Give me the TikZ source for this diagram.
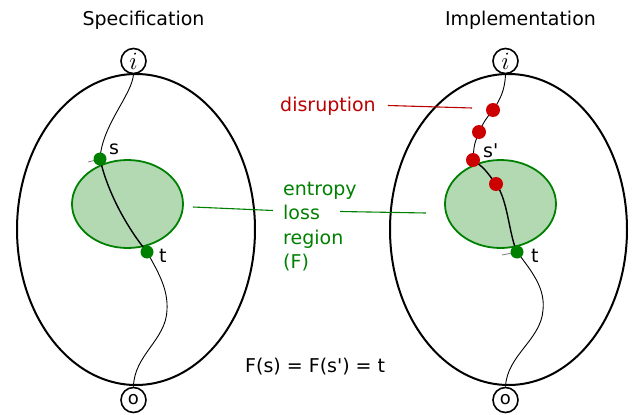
\documentclass[tikz,border=0pt]{standalone}
\usepackage{fontspec}
\setmainfont{DejaVu Sans}
\usetikzlibrary{calc}
\pgfdeclarelayer{bg}
\pgfdeclarelayer{mid}
\pgfsetlayers{bg,mid,main}
\definecolor{dgreen}{HTML}{008000}
\definecolor{lgreen}{HTML}{B3D9B3}
\definecolor{dred}{HTML}{CC0000}
\definecolor{tred}{HTML}{BB0000}
\begin{document}
\begin{tikzpicture}[x=1pt,y=-1pt,
  txt/.style={font=\fontsize{19}{23}\selectfont, inner sep=0pt},
  term/.style={draw, circle, line width=1.6pt, minimum size=25pt, inner sep=0pt, font=\fontsize{18}{18}\selectfont},
  iterm/.style={term, font=\fontsize{27}{27}\selectfont},
  gdot/.style={circle, fill=dgreen, minimum size=13pt, inner sep=0pt},
  rdot/.style={circle, fill=dred, minimum size=14pt, inner sep=0pt},
  outer/.style={draw, line width=2pt},
  region/.style={draw=dgreen, fill=lgreen, line width=1.8pt},
  wire/.style={line width=0.9pt},
  wirein/.style={line width=1.4pt},
  gline/.style={draw=dgreen, line width=1.1pt},
  rline/.style={draw=tred, line width=1.1pt}
]
\useasboundingbox (0,0) rectangle (638,415);

% titles
\node[txt, anchor=base] (spec) at (143.5,25) {Specification};
\node[txt, anchor=base] (impl) at (520.5,25) {Implementation};

% terminal nodes
\node[iterm] (i1) at (133.5,61) {$i$};
\node[term] (o1) at (133.5,400) {o};
\node[iterm] (i2) at (505.5,61) {$i$};
\node[term] (o2) at (505.5,400) {o};

% ellipses
\begin{pgfonlayer}{bg}
\draw[outer] (136,229.5) ellipse [x radius=119, y radius=155.5];
\draw[outer] (508.5,229.5) ellipse [x radius=118.5, y radius=155.5];
\draw[region] (127.5,204) ellipse [x radius=55.5, y radius=44];
\draw[region] (500.5,204) ellipse [x radius=55.5, y radius=44];
\end{pgfonlayer}

% dots
\node[gdot] (s) at (100,159) {};
\node[gdot] (t1) at (147,252) {};
\node[rdot] (r1) at (493,110) {};
\node[rdot] (r2) at (479,132) {};
\node[rdot] (r3) at (473,160) {};
\node[rdot] (r4) at (496,184) {};
\node[gdot] (t2) at (517,252) {};
\coordinate (m1) at (167,310);
\coordinate (m2) at (543,310);

% dot labels
\node[txt, anchor=base west] (ls) at (109,154) {s};
\node[txt, anchor=base west] (lt1) at (159,262) {t};
\node[txt, anchor=base west] (ls2) at (483,157) {s\textquotesingle};
\node[txt, anchor=base west] (lt2) at (531,262) {t};

% paths
\begin{pgfonlayer}{mid}
\draw[wire] (i1.south) .. controls (132,95) and (102,125) .. (s.center);
\draw[wirein] (s.center) .. controls (107,190) and (125,225) .. (t1.center);
\draw[wire] (t1.center) .. controls (160,275) and (168,290) .. (m1) .. controls (166,340) and (134,355) .. (o1.north);
\draw[wire] (i2.south) .. controls (505,90) and (500,100) .. (r1.center);
\draw[wire] (r1.center) .. controls (485,120) .. (r2.center);
\draw[wire] (r2.center) .. controls (474,145) .. (r3.center);
\draw[wirein] (r3.center) .. controls (484,168) .. (r4.center);
\draw[wirein] (r4.center) .. controls (508,200) and (509,235) .. (t2.center);
\draw[wire] (t2.center) .. controls (535,275) and (545,290) .. (m2) .. controls (541,340) and (507,355) .. (o2.north);
\draw[gray, line width=0.8pt] (s.center) -- ++(-12,3);
\draw[gray, line width=0.8pt] (t2.center) -- ++(-15,3);
\end{pgfonlayer}

% annotation texts
\node[txt, text=tred, anchor=base west] (dis) at (280,111.5) {disruption};
\node[txt, text=dgreen, anchor=base west] (en1) at (283,195) {entropy};
\node[txt, text=dgreen, anchor=base west] (en2) at (283,219.5) {loss};
\node[txt, text=dgreen, anchor=base west] (en3) at (283,244) {region};
\node[txt, text=dgreen, anchor=base west] (en4) at (283,268.5) {(F)};
\node[txt, anchor=base west] (eq) at (245,372) {F(s) = F(s\textquotesingle) = t};

\coordinate (dend) at (472,108);
\coordinate (gl1) at (193,207);
\coordinate (gl2) at (426,213);
\draw[rline] ($(dis.base east)+(12,-6)$) -- (dend);
\draw[gline] (gl1) -- ($(en2.base west)+(-10,-9)$);
\draw[gline] ($(en2.base east)+(20,-8)$) -- (gl2);
\end{tikzpicture}
\end{document}
